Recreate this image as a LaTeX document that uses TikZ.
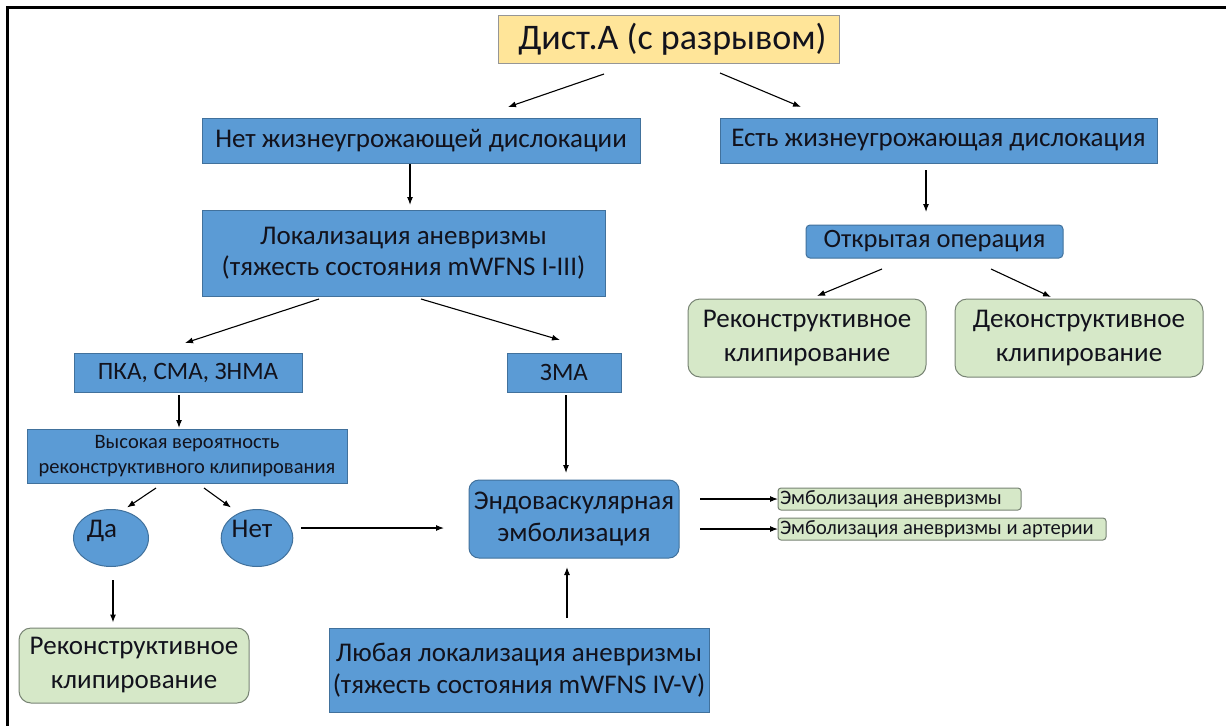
\documentclass[tikz,border=0pt]{standalone}
\usepackage{fontspec}
\setmainfont{Carlito}
\usetikzlibrary{calc,arrows.meta,shapes.geometric}
\definecolor{bluefill}{RGB}{91,155,213}
\definecolor{blueline}{RGB}{65,113,156}
\definecolor{greenfill}{RGB}{214,232,200}
\definecolor{greenline}{RGB}{120,132,116}
\definecolor{yelfill}{RGB}{255,229,153}
\definecolor{yelline}{RGB}{150,150,150}
\definecolor{txt}{RGB}{18,18,28}
\begin{document}
\begin{tikzpicture}[x=1pt,y=-1pt,
  every node/.style={inner sep=0pt, outer sep=0pt, text=txt, align=center},
  bluebox/.style={draw=blueline, fill=bluefill, line width=1pt, font=\fontsize{27}{31.5}\selectfont},
  roundblue/.style={bluebox, rounded corners=10pt},
  blueoval/.style={ellipse, draw=blueline, fill=bluefill, line width=1pt, font=\fontsize{27}{31}\selectfont},
  greenbox/.style={draw=greenline, fill=greenfill, line width=1pt, rounded corners=12pt, font=\fontsize{27}{34}\selectfont},
  smallgreen/.style={draw=greenline, fill=greenfill, line width=1pt, rounded corners=3pt, font=\fontsize{20.5}{24}\selectfont},
  yelbox/.style={draw=yelline, fill=yelfill, line width=1pt, font=\fontsize{36}{40}\selectfont},
  arr/.style={-{Latex[length=8pt,width=6pt]}, line width=1.1pt, black}
]
\useasboundingbox (0,0) rectangle (1226,726);
\fill[white] (0,0) rectangle (1226,726);
\draw[line width=3pt, black] (1226,7) -- (7,7) -- (7,726);

\node[yelbox, minimum width=341pt, minimum height=48pt] (top) at (668.5,39) {\hspace*{8pt}Дист.А (с разрывом)};
\node[bluebox, minimum width=438pt, minimum height=45pt] (net) at (421,140.5) {Нет жизнеугрожающей дислокации};
\node[bluebox, minimum width=437pt, minimum height=45pt] (est) at (938.5,140.5) {Есть жизнеугрожающая дислокация};
\node[bluebox, minimum width=403pt, minimum height=86pt] (lok) at (403.5,253) {Локализация аневризмы\\(тяжесть состояния mWFNS I-III)};
\node[bluebox, rounded corners=4pt, minimum width=257pt, minimum height=33pt, font=\fontsize{26.5}{31}\selectfont] (otkr) at (934.5,241.5) {Открытая операция};
\node[greenbox, minimum width=238pt, minimum height=78pt] (recR) at (807,338) {Реконструктивное\\клипирование};
\node[greenbox, minimum width=248pt, minimum height=78pt] (dec) at (1079,338) {Деконструктивное\\клипирование};
\node[bluebox, minimum width=228pt, minimum height=39pt, font=\fontsize{25}{31}\selectfont] (pka) at (188,372.5) {ПКА, СМА, ЗНМА};
\node[bluebox, minimum width=114pt, minimum height=39pt, font=\fontsize{25}{31}\selectfont] (zma) at (564,372.5) {ЗМА};
\node[bluebox, minimum width=320pt, minimum height=54pt, font=\fontsize{20.5}{25}\selectfont] (vys) at (187,456) {Высокая вероятность\\реконструктивного клипирования};
\node[blueoval, minimum width=75pt, minimum height=57pt] (da) at (111,538) {\raisebox{19pt}{Да}\hspace*{18pt}};
\node[blueoval, minimum width=71pt, minimum height=57pt] (netE) at (257,538) {\raisebox{19pt}{Нет}\hspace*{10pt}};
\node[roundblue, minimum width=210pt, minimum height=78pt] (endo) at (574,519) {Эндоваскулярная\\эмболизация};
\node[smallgreen, minimum width=243pt, minimum height=22pt] (emb1) at (899.5,499) {\makebox[239pt][l]{Эмболизация аневризмы}};
\node[smallgreen, minimum width=328pt, minimum height=22pt] (emb2) at (942,529) {\makebox[324pt][l]{Эмболизация аневризмы и артерии}};
\node[greenbox, minimum width=230pt, minimum height=75pt] (recL) at (134,665.5) {Реконструктивное\\клипирование};
\node[bluebox, minimum width=380pt, minimum height=84pt] (lub) at (519,670) {Любая локализация аневризмы\\(тяжесть состояния mWFNS IV-V)};

\draw[arr] ($(top.south)+(-64.5,11)$) -- ($(net.north)+(87,-11)$);
\draw[arr] ($(top.south)+(51.5,10)$) -- ($(est.north)+(-137.5,-11)$);
\draw[arr] ($(net.south)+(-11,1)$) -- ($(lok.north)+(6.5,-5)$);
\draw[arr] ($(est.south)+(-12.5,7)$) -- ($(otkr.north)+(-8.5,-13)$);
\draw[arr] ($(otkr.south)+(-52.5,11)$) -- ($(recR.north)+(10,-3)$);
\draw[arr] ($(otkr.south)+(56.5,11)$) -- ($(dec.north)+(-28,-2)$);
\draw[arr] ($(lok.south)+(-84.5,3)$) -- ($(pka.north)+(-3,-10)$);
\draw[arr] ($(lok.south)+(17.5,3)$) -- ($(zma.north)+(-4,-13)$);
\draw[arr] ($(pka.south)+(-9,3)$) -- ($(vys.north)+(-8,-1)$);
\draw[arr] ($(zma.south)+(2,3)$) -- ($(endo.north)+(-8,-7)$);
\draw[arr] ($(vys.south)+(-31,5)$) -- ($(da.north)+(16,-2)$);
\draw[arr] ($(vys.south)+(17,5)$) -- ($(netE.north)+(-26,-2)$);
\draw[arr] ($(netE.east)+(8.5,-10)$) -- ($(endo.west)+(-25,9)$);
\draw[arr] ($(da.south)+(2,13.5)$) -- ($(recL.north)+(-21,-5.5)$);
\draw[arr] ($(lub.north)+(48,-10)$) -- ($(endo.south)+(-7,9)$);
\draw[arr] ($(endo.east)+(21,-20)$) -- (emb1.west);
\draw[arr] ($(endo.east)+(21,10)$) -- (emb2.west);
\end{tikzpicture}
\end{document}
